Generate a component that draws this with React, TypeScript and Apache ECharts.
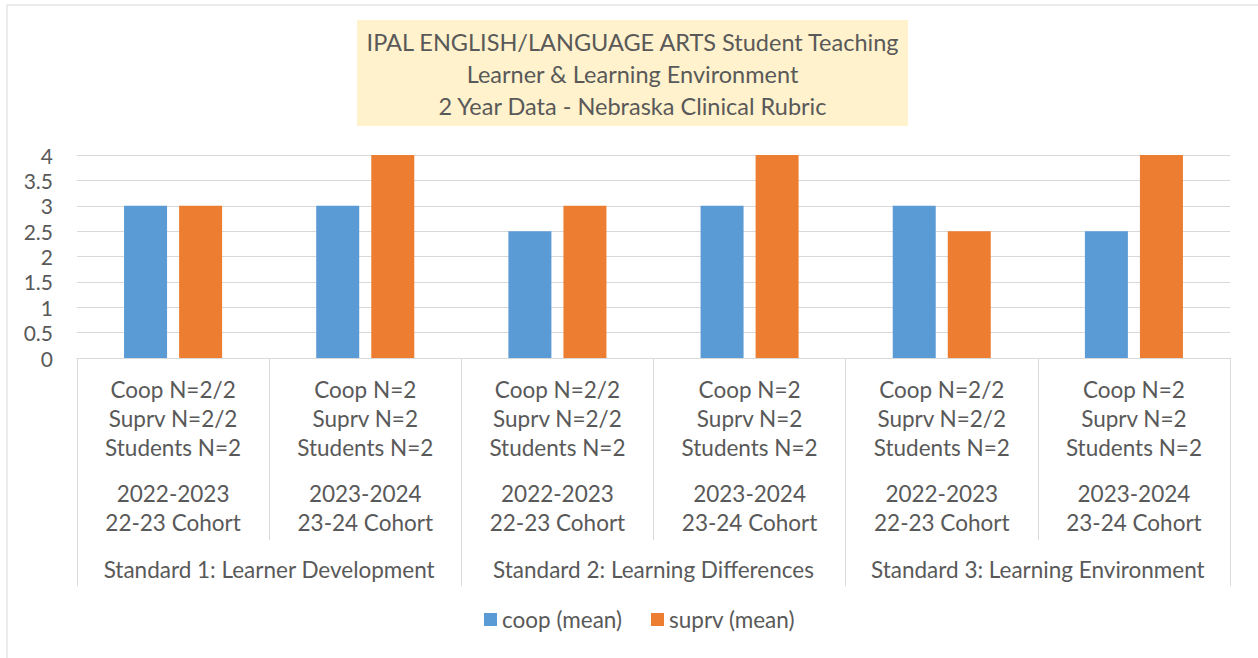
import React, { useEffect, useRef } from "react";
import * as echarts from "echarts";

const titleLines = [
  "IPAL ENGLISH/LANGUAGE ARTS Student Teaching",
  "Learner & Learning Environment",
  "2 Year Data - Nebraska Clinical Rubric",
];
const categories = [
  ["Coop N=2/2", "Suprv N=2/2", "Students N=2", "2022-2023", "22-23 Cohort"],
  ["Coop N=2", "Suprv N=2", "Students N=2", "2023-2024", "23-24 Cohort"],
  ["Coop N=2/2", "Suprv N=2/2", "Students N=2", "2022-2023", "22-23 Cohort"],
  ["Coop N=2", "Suprv N=2", "Students N=2", "2023-2024", "23-24 Cohort"],
  ["Coop N=2/2", "Suprv N=2/2", "Students N=2", "2022-2023", "22-23 Cohort"],
  ["Coop N=2", "Suprv N=2", "Students N=2", "2023-2024", "23-24 Cohort"],
];
const groups = [
  "Standard 1: Learner Development",
  "Standard 2: Learning Differences",
  "Standard 3: Learning Environment",
];
const coopMean = [3, 3, 2.5, 3, 3, 2.5];
const suprvMean = [3, 4, 3, 4, 2.5, 4];
const seriesNames = ["coop (mean)", "suprv (mean)"];

const FONT = "Lato";
const TEXT = "#595959";
const GRID = "#D9D9D9";

export default function App() {
  const ref = useRef<HTMLDivElement>(null);
  useEffect(() => {
    if (!ref.current) return;
    const chart = echarts.init(ref.current, undefined, { renderer: "svg" });
    const catLabels = categories.map(
      (c) => `{a|${c[0]}}\n{a|${c[1]}}\n{a|${c[2]}}\n{g| }\n{a|${c[3]}}\n{a|${c[4]}}`
    );
    chart.setOption({
      animation: false,
      textStyle: { fontFamily: FONT },
      graphic: [
        {
          type: "rect",
          shape: { x: 7, y: 5, width: 1262, height: 662 },
          style: { fill: "none", stroke: GRID, lineWidth: 1 },
          silent: true,
        },
        {
          type: "rect",
          shape: { x: 357, y: 20, width: 551, height: 106 },
          style: { fill: "#FFF2CC" },
          silent: true,
        },
        {
          type: "text",
          x: 632.5,
          y: 73.5,
          style: {
            text: titleLines.join("\n"),
            fill: TEXT,
            fontFamily: FONT,
            fontSize: 23.5,
            lineHeight: 32,
            align: "center",
            verticalAlign: "middle",
          },
          silent: true,
        },
      ],
      grid: { left: 77, right: 28, top: 155, bottom: 300, containLabel: false },
      legend: {
        left: 479,
        top: 603,
        itemWidth: 13,
        itemHeight: 13,
        itemGap: 29,
        icon: "rect",
        textStyle: { color: TEXT, fontSize: 22.5, fontFamily: FONT },
        data: seriesNames,
      },
      xAxis: [
        {
          type: "category",
          data: catLabels,
          position: "bottom",
          axisLine: { show: true, lineStyle: { color: GRID, width: 1 } },
          axisTick: { show: true, interval: 0, length: 182, lineStyle: { color: GRID, width: 1 } },
          axisLabel: {
            interval: 0,
            margin: 17,
            color: TEXT,
            rich: {
              a: { fontSize: 22.5, lineHeight: 29, color: TEXT, fontFamily: FONT, align: "center" },
              g: { fontSize: 10, lineHeight: 17 },
            },
          },
        },
        {
          type: "category",
          data: groups,
          position: "bottom",
          offset: 0,
          axisLine: { show: false },
          axisTick: { show: true, interval: 0, length: 228, lineStyle: { color: GRID, width: 1 } },
          axisLabel: { interval: 0, margin: 197, color: TEXT, fontSize: 22.5, lineHeight: 29, fontFamily: FONT },
        },
      ],
      yAxis: {
        type: "value",
        min: 0,
        max: 4,
        interval: 0.5,
        axisLine: { show: false },
        axisTick: { show: false },
        axisLabel: { color: TEXT, fontSize: 21, margin: 24, fontFamily: FONT },
        splitLine: { lineStyle: { color: GRID, width: 1 } },
      },
      series: [
        {
          name: seriesNames[0],
          type: "bar",
          data: coopMean,
          barWidth: 43,
          barGap: "28%",
          itemStyle: { color: "#5B9BD5" },
        },
        {
          name: seriesNames[1],
          type: "bar",
          data: suprvMean,
          barWidth: 43,
          barGap: "28%",
          itemStyle: { color: "#ED7D31" },
        },
      ],
    });
    return () => chart.dispose();
  }, []);
  return (
    <div
      ref={ref}
      style={{ position: "absolute", left: 0, top: 0, width: 1258, height: 658, background: "#fff" }}
    />
  );
}
